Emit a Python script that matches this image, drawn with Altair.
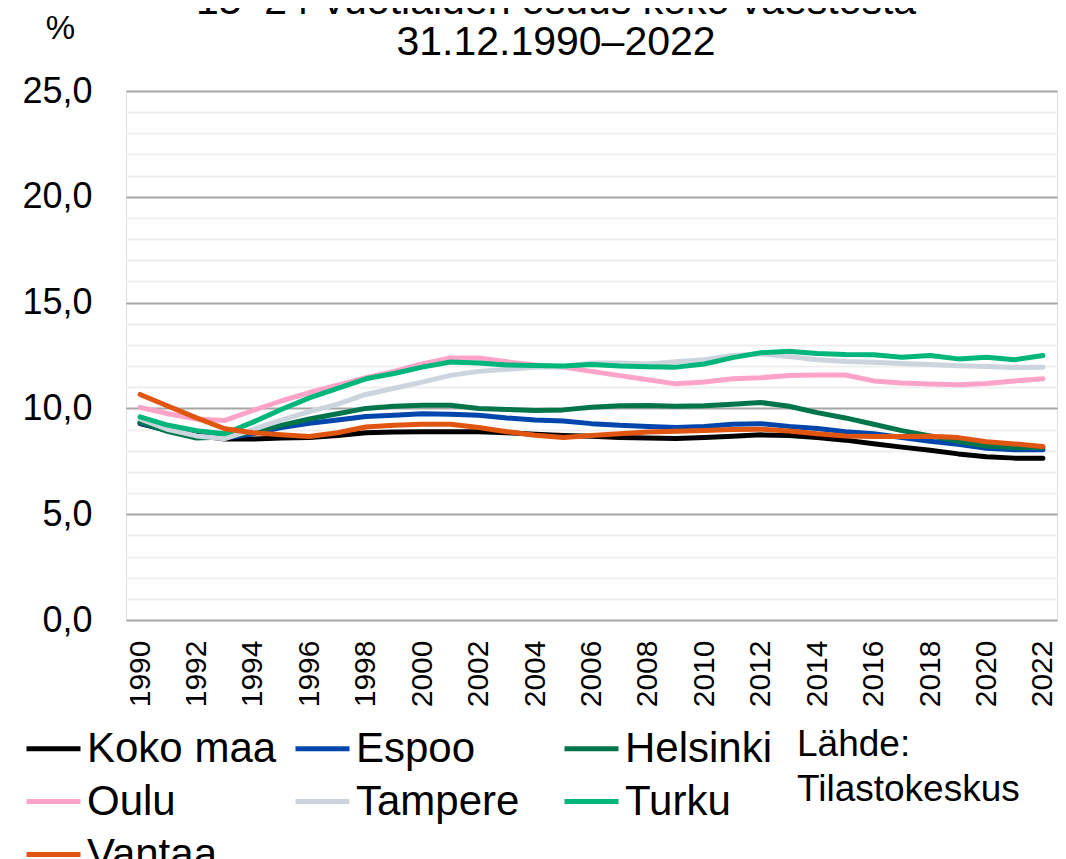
import altair as alt
import pandas as pd

years = list(range(1990, 2023))

koko_maa = [9.28, 8.95, 8.73, 8.55, 8.55, 8.60, 8.63, 8.72, 8.85, 8.88, 8.90, 8.90, 8.90, 8.85, 8.78, 8.72, 8.68,
            8.63, 8.60, 8.58, 8.63, 8.68, 8.75, 8.72, 8.62, 8.50, 8.33, 8.17, 8.02, 7.85, 7.72, 7.65, 7.65]
espoo = [9.30, 8.95, 8.70, 8.60, 8.80, 9.10, 9.30, 9.45, 9.62, 9.68, 9.75, 9.72, 9.68, 9.55, 9.45, 9.40, 9.28,
         9.20, 9.15, 9.10, 9.15, 9.25, 9.28, 9.15, 9.05, 8.90, 8.80, 8.62, 8.45, 8.30, 8.12, 8.05, 8.05]
helsinki = [9.35, 8.90, 8.60, 8.65, 8.90, 9.20, 9.50, 9.75, 10.00, 10.10, 10.15, 10.15, 10.00, 9.95, 9.90, 9.93, 10.05,
            10.12, 10.14, 10.10, 10.12, 10.20, 10.28, 10.10, 9.80, 9.55, 9.25, 8.95, 8.70, 8.45, 8.22, 8.15, 8.15]
oulu = [10.05, 9.75, 9.50, 9.43, 9.90, 10.35, 10.75, 11.10, 11.45, 11.75, 12.10, 12.38, 12.38, 12.20, 12.05, 11.95, 11.75,
        11.55, 11.35, 11.16, 11.25, 11.40, 11.45, 11.55, 11.58, 11.58, 11.30, 11.20, 11.15, 11.12, 11.18, 11.30, 11.40]
tampere = [9.50, 9.00, 8.70, 8.57, 9.00, 9.45, 9.85, 10.20, 10.66, 10.95, 11.24, 11.56, 11.75, 11.85, 11.95, 11.97, 12.15,
           12.15, 12.10, 12.20, 12.30, 12.50, 12.58, 12.45, 12.30, 12.22, 12.18, 12.12, 12.08, 12.02, 11.98, 11.93, 11.95]
turku = [9.60, 9.20, 8.95, 8.80, 9.35, 9.95, 10.50, 10.95, 11.40, 11.65, 11.95, 12.19, 12.15, 12.05, 12.03, 12.00, 12.08,
         12.00, 11.97, 11.95, 12.10, 12.40, 12.63, 12.70, 12.60, 12.55, 12.53, 12.42, 12.50, 12.34, 12.42, 12.30, 12.50]
vantaa = [10.66, 10.10, 9.55, 9.04, 8.85, 8.75, 8.67, 8.85, 9.12, 9.20, 9.25, 9.25, 9.10, 8.90, 8.73, 8.62, 8.72,
          8.80, 8.88, 8.92, 8.95, 9.00, 9.02, 8.93, 8.80, 8.70, 8.67, 8.67, 8.68, 8.62, 8.42, 8.32, 8.20]

series_names = ["Koko maa", "Espoo", "Helsinki", "Oulu", "Tampere", "Turku", "Vantaa"]
series_values = [koko_maa, espoo, helsinki, oulu, tampere, turku, vantaa]
series_colors = ["#000000", "#0046AD", "#00754A", "#FFA3C8", "#CCD5DD", "#00B67A", "#E0550F"]

x_tick_years = list(range(1990, 2023, 2))
y_ticks = list(range(0, 26))

title_lines = ["15–24-vuotiaiden osuus koko väestöstä", "31.12.1990–2022"]
source_lines = ["Lähde:", "Tilastokeskus"]

rows = []
for name, vals in zip(series_names, series_values):
    for y, v in zip(years, vals):
        rows.append({"Alue": name, "Vuosi": y, "Osuus": v})
df = pd.DataFrame(rows)

FONT = "Liberation Sans"

lines = alt.Chart(df).mark_line(strokeWidth=5, strokeCap="round", strokeJoin="round").encode(
    x=alt.X("Vuosi:Q",
            scale=alt.Scale(domain=[1989.5, 2022.5], nice=False, zero=False),
            axis=alt.Axis(values=x_tick_years, format="d", labelAngle=270, labelAlign="right",
                          labelBaseline="middle", labelFontSize=30, labelPadding=20, labelFont=FONT,
                          labelColor="#000000", ticks=False, grid=False, domain=False, title=None,
                          labelFlush=False, labelOverlap=False)),
    y=alt.Y("Osuus:Q",
            scale=alt.Scale(domain=[0, 25], nice=False),
            axis=alt.Axis(values=y_ticks,
                          labelExpr="datum.value % 5 === 0 ? replace(format(datum.value, '.1f'), '.', ',') : ''",
                          labelFontSize=36, labelPadding=34, labelFont=FONT, labelColor="#000000",
                          ticks=False, domain=False,
                          gridColor={"condition": {"test": "datum.value % 5 === 0", "value": "#a6a6a6"},
                                     "value": "#efefef"},
                          gridWidth=2,
                          title="%", titleAngle=0, titleFontSize=33, titleFont=FONT,
                          titleFontWeight="normal", titleColor="#000000",
                          titleX=-66, titleY=-53, titleAlign="center", titleBaseline="alphabetic",
                          labelOverlap=False)),
    color=alt.Color("Alue:N",
                    scale=alt.Scale(domain=series_names, range=series_colors),
                    sort=series_names,
                    legend=alt.Legend(title=None, orient="none", legendX=-102, legendY=628,
                                      direction="horizontal", columns=3, gridAlign="all",
                                      columnPadding=8, rowPadding=2,
                                      symbolType="stroke", symbolSize=2916, symbolStrokeWidth=5,
                                      labelFontSize=42, labelFont=FONT, labelColor="#000000",
                                      labelOffset=4, labelLimit=500, padding=0)),
)

title = alt.Chart(pd.DataFrame({"t": [0]})).mark_text(
    text=title_lines, font=FONT, fontSize=41, lineHeight=41, align="center", baseline="alphabetic",
    color="#000000"
).encode(x=alt.value(430), y=alt.value(-77))

source = alt.Chart(pd.DataFrame({"t": [0]})).mark_text(
    text=source_lines, font=FONT, fontSize=37, lineHeight=45, align="left", baseline="alphabetic",
    color="#000000"
).encode(x=alt.value(671), y=alt.value(665))

chart = alt.layer(lines, title, source).properties(
    width=931,
    height=529,
    autosize=alt.AutoSizeParams(type="none"),
    padding={"left": 118, "top": 83, "right": 1, "bottom": 239},
).configure_view(
    stroke="#898989", strokeWidth=2
).configure(background="#ffffff")

chart.save("out.html", embed_options={"renderer": "svg", "actions": False})
